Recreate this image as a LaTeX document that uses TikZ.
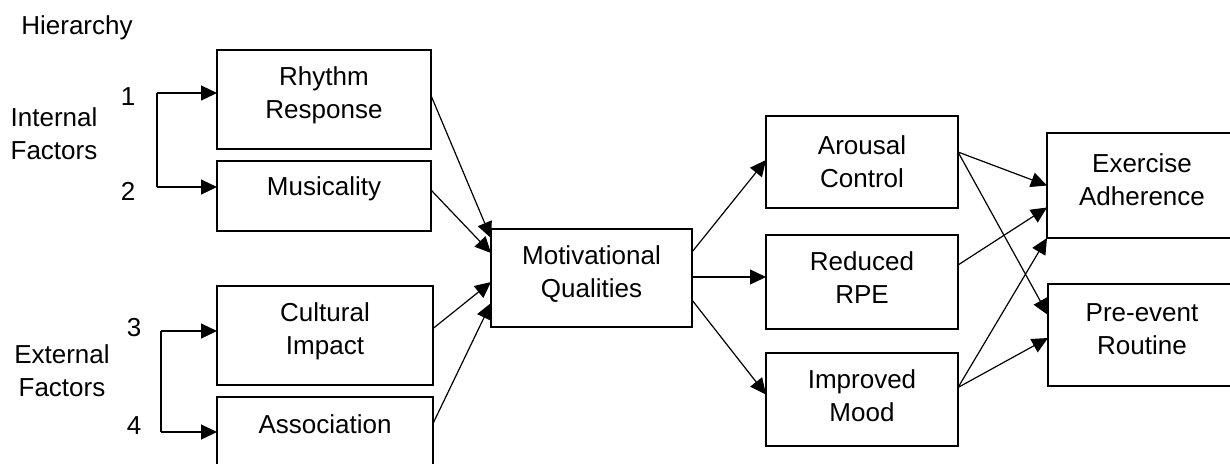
\documentclass[tikz,border=0pt]{standalone}
\usepackage{fontspec}
\setmainfont{Liberation Sans}
\usetikzlibrary{arrows.meta,calc}
\begin{document}
\begin{tikzpicture}[x=0.5pt,y=-0.5pt,
  font=\fontsize{13}{16.5}\selectfont,
  box/.style={draw, line width=0.7pt, inner sep=0pt, outer sep=0pt},
  lbl/.style={align=center, inner sep=0pt},
  arr/.style={line width=0.6pt, -{Triangle[length=8pt,width=7.5pt]}},
  ln/.style={line width=0.6pt}]
\useasboundingbox (0,0) rectangle (1230,463);
% boxes
\node[box, minimum width=107pt, minimum height=49.5pt] (rr) at (324,99.5) {};
\node[box, minimum width=107pt, minimum height=35pt] (mu) at (324,196) {};
\node[box, minimum width=108pt, minimum height=49.5pt] (ci) at (325,335.5) {};
\node[box, minimum width=108pt, minimum height=41.5pt] (as) at (325,438.5) {};
\node[box, minimum width=100.5pt, minimum height=49pt] (mq) at (591.5,278) {};
\node[box, minimum width=96pt, minimum height=46pt] (ac) at (862,162) {};
\node[box, minimum width=96pt, minimum height=47pt] (rp) at (862,282) {};
\node[box, minimum width=96pt, minimum height=46.5pt] (im) at (862,399.5) {};
\node[box, minimum width=94.5pt, minimum height=52.5pt] (ea) at (1141.5,185.5) {};
\node[box, minimum width=94pt, minimum height=51pt] (pe) at (1142,335) {};
% texts
\node[lbl] (trr) at (324,95) {Rhythm\\Response};
\node[lbl] (tmu) at (324,189) {Musicality};
\node[lbl] (tci) at (325,331) {Cultural\\Impact};
\node[lbl] (tas) at (325,424) {Association};
\node[lbl] (tmq) at (591.5,274.5) {Motivational\\Qualities};
\node[lbl] (tac) at (862,161.5) {Arousal\\Control};
\node[lbl] (trp) at (862,278) {Reduced\\RPE};
\node[lbl] (tim) at (862,396) {Improved\\Mood};
\node[lbl] (tea) at (1142,179.5) {Exercise\\Adherence};
\node[lbl] (tpe) at (1142,329.5) {Pre-event\\Routine};
% left labels
\node[lbl] (hier) at (77,28) {Hierarchy};
\node[lbl] (int) at (54,134) {Internal\\Factors};
\node[lbl] (ext) at (62,371) {External\\Factors};
\node[lbl] (n1) at (128,97) {1};
\node[lbl] (n2) at (128,191) {2};
\node[lbl] (n3) at (134,328) {3};
\node[lbl] (n4) at (134,426) {4};
% brackets
\coordinate (b1t) at (157,93);
\coordinate (b1b) at (157,187);
\coordinate (b2t) at (161,331);
\coordinate (b2b) at (161,432);
\draw[ln] (b1t) -- (b1b);
\draw[arr] (b1t) -- (rr.west |- b1t);
\draw[arr] (b1b) -- (mu.west |- b1b);
\draw[ln] (b2t) -- (b2b);
\draw[arr] (b2t) -- (ci.west |- b2t);
\draw[arr] (b2b) -- (as.west |- b2b);
% into motivational qualities
\draw[arr] ($(rr.east)+(0,-4)$) -- ($(mq.north west)+(0,9)$);
\draw[arr] ($(mu.east)+(0,-6)$) -- ($(mq.north west)+(0,24)$);
\draw[arr] ($(ci.east)+(0,-7)$) -- ($(mq.north west)+(0,53)$);
\draw[arr] ($(as.east)+(0,-15)$) -- ($(mq.north west)+(0,74)$);
% out of motivational qualities
\draw[arr] ($(mq.east)+(0,-26)$) -- ($(ac.west)+(0,-2)$);
\coordinate (mqr) at ($(mq.east)+(0,-1)$);
\draw[arr] (mqr) -- (rp.west |- mqr);
\draw[arr] ($(mq.east)+(0,22)$) -- ($(im.west)+(0,-5)$);
% right side
\draw[arr] ($(ac.east)+(0,-10)$) -- (ea.west);
\draw[arr] ($(ac.east)+(0,-10)$) -- ($(pe.west)+(0,-20)$);
\draw[arr] ($(rp.east)+(0,-17)$) -- ($(ea.west)+(0,22)$);
\draw[arr] ($(im.east)+(0,-12)$) -- (ea.south west);
\draw[arr] ($(im.east)+(0,-12)$) -- ($(pe.west)+(0,3)$);
\end{tikzpicture}
\end{document}
